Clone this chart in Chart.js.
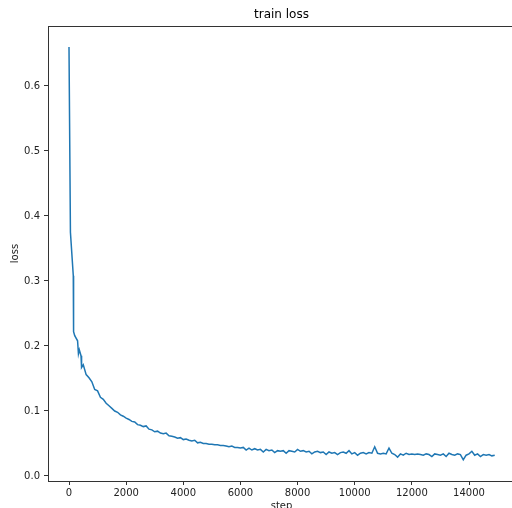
<!DOCTYPE html>
<html>
<head>
<meta charset="utf-8">
<script src="https://cdn.jsdelivr.net/npm/chart.js@4"></script>
<style>
  html, body { margin: 0; padding: 0; background: #fff; overflow: hidden; }
  #lossChart { display: block; }
</style>
</head>
<body>
<canvas id="lossChart" width="540" height="520"></canvas>
<script>
// --- Data ---
const steps = [
  0, 50, 150, 160, 200, 300, 330, 360, 420, 440, 500, 600, 700, 800, 900,
  1000, 1100, 1200, 1300, 1400, 1500, 1600, 1700, 1800, 1900,
  2000, 2100, 2200, 2300, 2400, 2500, 2600, 2700, 2800, 2900,
  3000, 3100, 3200, 3300, 3400, 3500, 3600, 3700, 3800, 3900,
  4000, 4100, 4200, 4300, 4400, 4500, 4600, 4700, 4800, 4900,
  5000, 5100, 5200, 5300, 5400, 5500, 5600, 5700, 5800, 5900,
  6000, 6100, 6200, 6300, 6400, 6500, 6600, 6700, 6800, 6900,
  7000, 7100, 7200, 7300, 7400, 7500, 7600, 7700, 7800, 7900,
  8000, 8100, 8200, 8300, 8400, 8500, 8600, 8700, 8800, 8900,
  9000, 9100, 9200, 9300, 9400, 9500, 9600, 9700, 9800, 9900,
  10000, 10100, 10200, 10300, 10400, 10500, 10600, 10700, 10800, 10900,
  11000, 11100, 11200, 11300, 11400, 11500, 11600, 11700, 11800, 11900,
  12000, 12100, 12200, 12300, 12400, 12500, 12600, 12700, 12800, 12900,
  13000, 13100, 13200, 13300, 13400, 13500, 13600, 13700, 13800, 13900,
  14000, 14100, 14200, 14300, 14400, 14500, 14600, 14700, 14800, 14900
];

const loss = [
  0.660, 0.375, 0.308, 0.222, 0.216, 0.208, 0.188, 0.194, 0.185, 0.167, 0.171, 0.156, 0.151, 0.145, 0.133,
  0.131, 0.121, 0.118, 0.112, 0.108, 0.104, 0.100, 0.098, 0.094, 0.092,
  0.089, 0.087, 0.084, 0.083, 0.079, 0.078, 0.076, 0.077, 0.072, 0.071,
  0.068, 0.069, 0.066, 0.065, 0.066, 0.062, 0.061, 0.060, 0.058, 0.059,
  0.056, 0.057, 0.055, 0.054, 0.055, 0.051, 0.052, 0.050, 0.050, 0.049,
  0.049, 0.048, 0.048, 0.047, 0.047, 0.046, 0.045, 0.046, 0.044, 0.044,
  0.043, 0.044, 0.040, 0.043, 0.040, 0.042, 0.040, 0.041, 0.037, 0.041,
  0.039, 0.040, 0.036, 0.039, 0.038, 0.039, 0.035, 0.039, 0.038, 0.037,
  0.041, 0.038, 0.039, 0.037, 0.038, 0.034, 0.037, 0.038, 0.036, 0.037,
  0.033, 0.037, 0.035, 0.036, 0.033, 0.036, 0.037, 0.035, 0.039, 0.034,
  0.036, 0.032, 0.035, 0.036, 0.034, 0.036, 0.035, 0.045, 0.035, 0.034,
  0.035, 0.034, 0.043, 0.035, 0.033, 0.029, 0.034, 0.032, 0.035, 0.033,
  0.034, 0.033, 0.034, 0.033, 0.032, 0.034, 0.033, 0.030, 0.034, 0.033,
  0.032, 0.034, 0.030, 0.035, 0.033, 0.032, 0.034, 0.033, 0.025, 0.032,
  0.034, 0.038, 0.032, 0.034, 0.030, 0.033, 0.032, 0.033, 0.031, 0.032
];

const xTicks = [0, 2000, 4000, 6000, 8000, 10000, 12000, 14000];
const yTicks = [0.0, 0.1, 0.2, 0.3, 0.4, 0.5, 0.6];

const FONT = 'DejaVu Sans';

// --- Frame: top/right spines like matplotlib ---
const frame = {
  id: 'frame',
  afterDraw(chart) {
    const { ctx, chartArea: a } = chart;
    ctx.save();
    ctx.strokeStyle = '#333';
    ctx.lineWidth = 1;
    ctx.strokeRect(Math.round(a.left) + 0.5, Math.round(a.top) + 0.5,
      Math.round(a.right - a.left), Math.round(a.bottom - a.top));
    ctx.restore();
  }
};

new Chart(document.getElementById('lossChart'), {
  type: 'line',
  data: {
    datasets: [{
      data: steps.map((s, i) => ({ x: s, y: loss[i] })),
      borderColor: '#1f77b4',
      borderWidth: 1.5,
      pointRadius: 0,
      tension: 0,
      fill: false
    }]
  },
  options: {
    responsive: false,
    animation: false,
    layout: { autoPadding: false, padding: { left: 0, top: 0, right: 25, bottom: 0 } },
    plugins: {
      legend: { display: false },
      tooltip: { enabled: false },
      title: {
        display: true,
        text: 'train loss',
        fullSize: false,
        color: '#000',
        font: { family: FONT, size: 12, weight: 'normal' },
        padding: { top: 7.8, bottom: 3.8 }
      }
    },
    scales: {
      x: {
        type: 'linear',
        min: -735,
        max: 15610,
        afterFit: s => { s.height = 39; },
        afterBuildTicks: s => { s.ticks = xTicks.map(v => ({ value: v })); },
        grid: { drawOnChartArea: false, tickLength: 4, tickColor: '#333' },
        border: { color: '#333' },
        ticks: { color: '#222', padding: 2, maxRotation: 0, font: { family: FONT, size: 10 },
          callback: v => String(v) },
        title: { display: true, text: 'step', color: '#222',
          font: { family: FONT, size: 10 }, padding: { top: 0, bottom: 7.5 } }
      },
      y: {
        type: 'linear',
        min: -0.0077,
        max: 0.6923,
        afterFit: s => { s.width = 48; },
        afterBuildTicks: s => { s.ticks = yTicks.map(v => ({ value: v })); },
        grid: { drawOnChartArea: false, tickLength: 4, tickColor: '#333' },
        border: { color: '#333' },
        ticks: { color: '#222', padding: 4, font: { family: FONT, size: 10 },
          callback: v => v.toFixed(1) },
        title: { display: true, text: 'loss', color: '#222',
          font: { family: FONT, size: 10 }, padding: { top: 9, bottom: 0 } }
      }
    }
  },
  plugins: [frame]
});
</script>
</body>
</html>
